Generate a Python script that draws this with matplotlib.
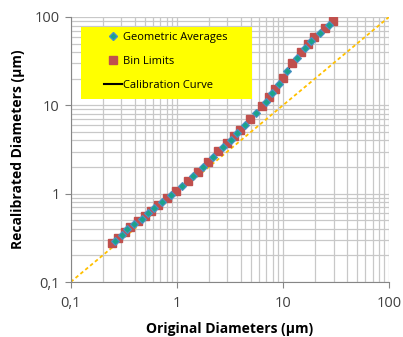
import matplotlib
matplotlib.use("Agg")
import matplotlib.pyplot as plt
from matplotlib.lines import Line2D
from matplotlib.patches import Rectangle
from matplotlib.ticker import LogLocator, FixedLocator, FixedFormatter, NullFormatter

plt.rcParams["font.family"] = ["Open Sans", "DejaVu Sans"]

# bin limits (original vs recalibrated, µm)
bin_x = [0.247, 0.281, 0.325, 0.362, 0.434, 0.502, 0.571, 0.661, 0.803, 0.983,
         1.283, 1.594, 1.981, 2.461, 2.992, 3.484, 3.941, 4.897, 6.395, 7.44,
         8.43, 9.95, 12.26, 14.91, 17.36, 19.77, 24.94, 29.85]
bin_y = [0.274, 0.317, 0.370, 0.422, 0.489, 0.558, 0.640, 0.743, 0.885, 1.079,
         1.40, 1.77, 2.30, 3.01, 3.71, 4.49, 5.25, 6.94, 9.90, 12.32,
         15.18, 20.2, 29.9, 40.1, 49.5, 58.9, 74.5, 90.1]

# geometric averages of the bins
geo_x = [0.263, 0.302, 0.343, 0.396, 0.466, 0.535, 0.614, 0.729, 0.888, 1.123,
         1.430, 1.777, 2.208, 2.714, 3.229, 3.705, 4.393, 5.596, 6.898, 7.92,
         9.16, 11.04, 13.52, 16.09, 18.53, 22.20, 27.28]
geo_y = [0.294, 0.342, 0.395, 0.454, 0.522, 0.597, 0.690, 0.811, 0.977, 1.229,
         1.574, 2.017, 2.631, 3.345, 4.083, 4.855, 6.036, 8.29, 11.04, 13.68,
         17.51, 24.58, 34.6, 44.6, 54.0, 66.2, 81.9]

ref_line = [0.1, 100]

fig = plt.figure(figsize=(4.03, 3.37), dpi=100)
ax = fig.add_axes([0.1754, 0.1632, 0.7899, 0.7864])

ax.plot(ref_line, ref_line, color="#FFC000", lw=1.3, dashes=(2, 1.5), zorder=2)
ax.plot(bin_x, bin_y, color="black", lw=1.2, zorder=3)
ax.plot(bin_x, bin_y, "s", color="#C0504D", ms=6, mec="#C0504D", zorder=4)
ax.plot(geo_x, geo_y, "D", color="#1BA38A", mec="#4A90C8", mew=0.8, ms=4, zorder=5)

ax.set_xscale("log")
ax.set_yscale("log")
ax.set_xlim(0.1, 100)
ax.set_ylim(0.1, 100)

majors = [0.1, 1, 10, 100]
labels = ["0,1", "1", "10", "100"]
for axis in (ax.xaxis, ax.yaxis):
    axis.set_major_locator(FixedLocator(majors))
    axis.set_major_formatter(FixedFormatter(labels))
    axis.set_minor_locator(LogLocator(base=10, subs=range(2, 10)))
    axis.set_minor_formatter(NullFormatter())

ax.grid(True, which="both", color="#C8C8C8", lw=0.9, zorder=0)
ax.set_axisbelow(True)
ax.tick_params(which="minor", length=0)
ax.tick_params(which="major", length=4, color="#868686", labelsize=10.5,
               labelcolor="#404040")
ax.tick_params(axis="x", pad=6)
ax.tick_params(axis="y", pad=4)
for side in ("top", "right"):
    ax.spines[side].set_visible(False)
for side in ("left", "bottom"):
    ax.spines[side].set_color("#868686")

ax.set_xlabel("Original Diameters (µm)", fontsize=10, fontweight="bold", labelpad=8)
ax.set_ylabel("Recalibrated Diameters (µm)", fontsize=10, fontweight="bold", labelpad=7)

# yellow legend box
ax.add_patch(Rectangle((0.032, 0.69), 0.538, 0.272, transform=ax.transAxes,
                       facecolor="#FFFF00", edgecolor="none", zorder=6))
handles = [
    Line2D([], [], ls="none", marker="D", color="#1BA38A", mec="#4A90C8", ms=4),
    Line2D([], [], ls="none", marker="s", color="#C0504D", ms=6),
    Line2D([], [], color="black", lw=1.5),
]
leg = ax.legend(handles, ["Geometric Averages", "Bin Limits", "Calibration Curve"],
                loc="upper left", bbox_to_anchor=(0.105, 0.945), frameon=False,
                fontsize=8, handlelength=1.6, handletextpad=0.1, labelspacing=1.2,
                borderpad=0, borderaxespad=0)
leg.set_zorder(7)

fig.savefig("out.png", dpi=100)
plt.close(fig)
